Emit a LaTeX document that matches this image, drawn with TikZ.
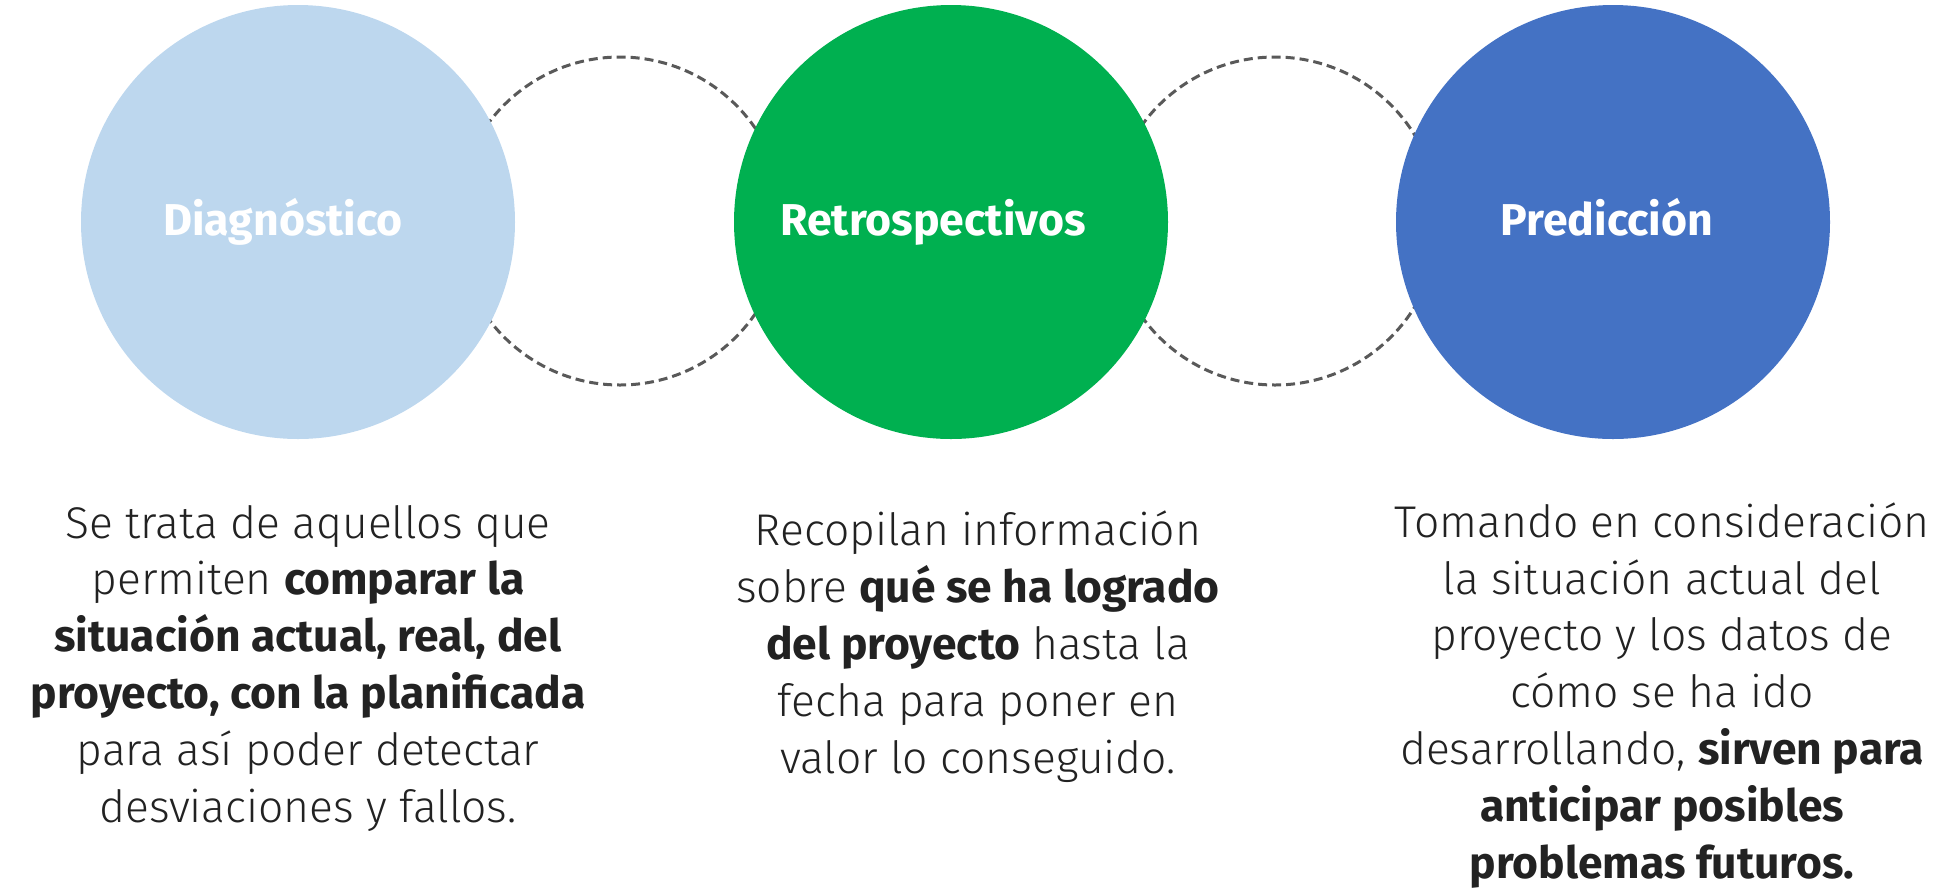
\documentclass[tikz,border=0pt]{standalone}
\usepackage{fontspec}
\setmainfont{Fira Sans Light}[BoldFont={Fira Sans Bold}]
\usepackage{xcolor}
\usepackage{tikz}

\definecolor{diagblue}{HTML}{BDD7EE}
\definecolor{retrogreen}{HTML}{00B050}
\definecolor{predblue}{HTML}{4472C4}
\definecolor{ringgray}{HTML}{595959}
\definecolor{bodytext}{HTML}{222222}

\begin{document}
\begin{tikzpicture}[x=0.5pt,y=-0.5pt]
  \tikzstyle{phase}=[circle,minimum size=217pt,inner sep=0pt]
  \tikzstyle{ring}=[draw=ringgray,line width=1.5pt,dash pattern=on 4.5pt off 2.5pt]
  \tikzstyle{title}=[anchor=base,text=white,inner sep=0pt,font=\fontsize{22.3}{26}\selectfont\bfseries]
  \tikzstyle{description}=[anchor=base,align=center,text=bodytext,inner sep=0pt,font=\fontsize{22.2}{28.4}\selectfont]

  \useasboundingbox (0,0) rectangle (1949,890);

  % dashed rings behind the phases
  \draw[ring] (620,221) circle (82pt);
  \draw[ring] (1275,221) circle (82pt);

  \node[phase,fill=diagblue] (diag) at (298,222) {};
  \node[phase,fill=retrogreen] (retro) at (951,222) {};
  \node[phase,fill=predblue] (pred) at (1613,222) {};

  \node[title] (diag title) at (283,235) {Diagnóstico};
  \node[title] (retro title) at (933,235) {Retrospectivos};
  \node[title] (pred title) at (1607,235) {Predicción};

  % base anchor sits on the last line
  \node[description] (diag text) at (308,822) {Se trata de aquellos que\\
    permiten \textbf{comparar la}\\
    \textbf{situación actual, real, del}\\
    \textbf{proyecto, con la planificada}\\
    para así poder detectar\\
    desviaciones y fallos.};

  \node[description] (retro text) at (978,773) {Recopilan información\\
    sobre \textbf{qué se ha logrado}\\
    \textbf{del proyecto} hasta la\\
    fecha para poner en\\
    valor lo conseguido.};

  \node[description] (pred text) at (1662,878) {Tomando en consideración\\
    la situación actual del\\
    proyecto y los datos de\\
    cómo se ha ido\\
    desarrollando, \textbf{sirven para}\\
    \textbf{anticipar posibles}\\
    \textbf{problemas futuros.}};
\end{tikzpicture}
\end{document}
